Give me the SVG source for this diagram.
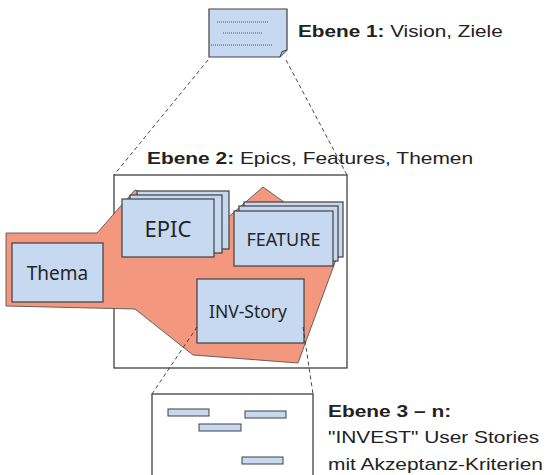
<svg xmlns="http://www.w3.org/2000/svg" width="550" height="475" viewBox="0 0 550 475">
<style>
.card{fill:#c6d9f1;stroke:#404040;stroke-width:1.2}
.bar{fill:#c6d9f1;stroke:#404040;stroke-width:1}
.frame{fill:#ffffff;stroke:#404040;stroke-width:1.3}
.dash{fill:none;stroke:#333333;stroke-width:0.9;stroke-dasharray:4,3}
.dot{fill:none;stroke:#333333;stroke-width:0.8;stroke-dasharray:1,1}
.lbl{font-family:"Liberation Sans",Arial,sans-serif;font-size:17px;fill:#222222}
.lbl .b{font-weight:bold}
.nt{font-family:"Noto Sans","Open Sans",sans-serif;fill:#262626;text-anchor:middle}
</style>
<rect width="550" height="475" fill="#ffffff"/>

<g id="ebene2-frame">
  <rect class="frame" x="114" y="175" width="233" height="193"/>
</g>

<g id="thema-area">
  <polygon points="6,233 97,233 135,190 225,220 263,187 284,202 337,257 298,363 193,355 135,309 6,306" fill="#f3977f" stroke="#555555" stroke-width="0.9"/>
</g>

<g id="thema">
  <rect class="card" x="12" y="243" width="91" height="59"/>
  <text class="nt" x="57.5" y="280" font-size="19">Thema</text>
</g>

<g id="epic">
  <rect class="card" x="137" y="191" width="92" height="58"/>
  <rect class="card" x="130" y="195" width="92" height="58"/>
  <rect class="card" x="122" y="199" width="92" height="58"/>
  <text class="nt" x="168" y="237" font-size="22">EPIC</text>
</g>

<g id="feature">
  <rect class="card" x="244" y="202" width="99" height="55"/>
  <rect class="card" x="239" y="206" width="99" height="55"/>
  <rect class="card" x="234" y="211" width="99" height="55"/>
  <text class="nt" x="283.5" y="246" font-size="18">FEATURE</text>
</g>

<g id="inv-story">
  <rect class="card" x="197" y="279" width="107" height="64"/>
  <text class="nt" x="248" y="318" font-size="17.5">INV-Story</text>
</g>

<g id="ebene1-doc">
  <path class="card" d="M209,9 H287 V50 L280,57 H209 Z"/>
  <path d="M287,50 L282,51.5 L280,57" fill="#9fb6d6" stroke="#404040" stroke-width="1"/>
  <line class="dot" x1="217" y1="22" x2="268" y2="22"/>
  <line class="dot" x1="223" y1="33" x2="263" y2="33"/>
  <line class="dot" x1="211" y1="45" x2="272" y2="45"/>
</g>

<g id="ebene3-frame">
  <rect class="frame" x="152" y="394" width="161" height="90" stroke="#555555" stroke-width="1.5"/>
  <rect class="bar" x="168" y="409" width="41" height="7"/>
  <rect class="bar" x="245" y="411" width="41" height="7"/>
  <rect class="bar" x="199" y="424" width="42" height="7"/>
  <rect class="bar" x="242" y="457" width="41" height="7"/>
</g>

<g id="connectors">
  <line class="dash" x1="208" y1="60" x2="114" y2="175"/>
  <line class="dash" x1="286" y1="60" x2="347" y2="175"/>
  <line class="dash" x1="197" y1="327" x2="152" y2="394"/>
  <line class="dash" x1="303" y1="327" x2="313" y2="394"/>
</g>

<g id="labels">
  <text class="lbl" transform="translate(298,37) scale(1.22,1)"><tspan class="b">Ebene 1:</tspan> Vision, Ziele</text>
  <text class="lbl" transform="translate(147,164) scale(1.23,1)"><tspan class="b">Ebene 2:</tspan> Epics, Features, Themen</text>
  <text class="lbl" transform="translate(328,417) scale(1.23,1)"><tspan class="b">Ebene 3 – n:</tspan></text>
  <text class="lbl" transform="translate(328,443) scale(1.23,1)">"INVEST" User Stories</text>
  <text class="lbl" transform="translate(328,470) scale(1.23,1)">mit Akzeptanz-Kriterien</text>
</g>
</svg>
